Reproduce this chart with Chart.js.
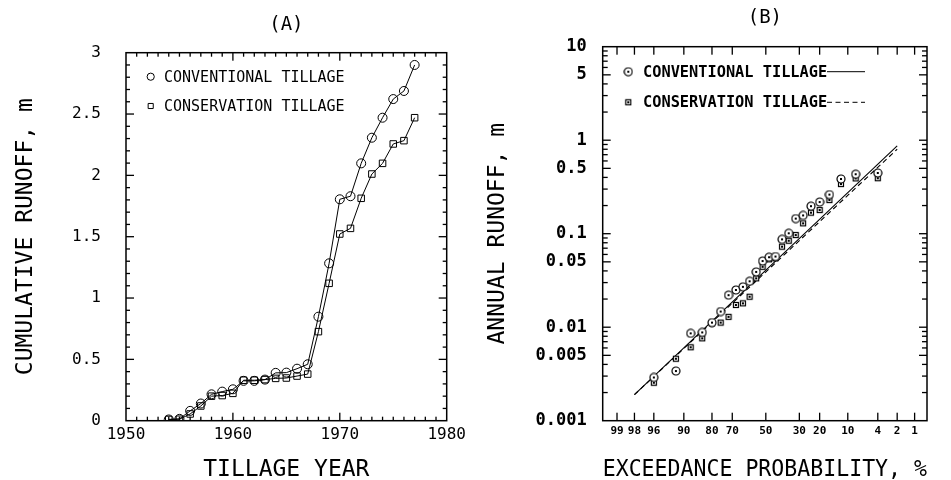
<!DOCTYPE html>
<html>
<head>
<meta charset="utf-8">
<script src="https://cdn.jsdelivr.net/npm/chart.js@4"></script>
<style>
  html, body { margin: 0; padding: 0; background: #fff; }
  .pane { position: absolute; top: 0; }
  #pa { left: 0; }
  #pb { left: 480px; }
</style>
</head>
<body>
<div class="pane" id="pa"><canvas id="ch-a" width="480" height="480"></canvas></div>
<div class="pane" id="pb"><canvas id="ch-b" width="471" height="480"></canvas></div>
<script>
/* two panels: (A) cumulative runoff by year, (B) annual runoff on lognormal probability paper */

const MONO = '"DejaVu Sans Mono", "Liberation Mono", monospace';

// ---- panel A data
const years = [1954,1955,1956,1957,1958,1959,1960,1961,1962,1963,1964,1965,
               1966,1967,1968,1969,1970,1971,1972,1973,1974,1975,1976,1977];
const convCum = [0.01,0.015,0.08,0.14,0.215,0.237,0.256,0.325,0.325,0.335,0.39,0.392,
                 0.424,0.46,0.848,1.283,1.805,1.83,2.098,2.307,2.47,2.622,2.688,2.9];
const consCum = [0.01,0.012,0.055,0.12,0.2,0.205,0.223,0.33,0.33,0.335,0.345,0.348,
                 0.364,0.38,0.726,1.12,1.522,1.568,1.813,2.011,2.098,2.256,2.283,2.47];

// ---- panel B data (exceedance probability, %)
const probs   = [96,92,88,84,80,76,72,68,64,60,56,52,48,44,40,36,32,28,24,20,16,12,8,4];
const convAnn = [0.0029,0.0034,0.0086,0.0088,0.0112,0.0147,0.022,0.025,0.027,0.031,0.039,0.051,
                 0.056,0.057,0.087,0.101,0.145,0.157,0.197,0.218,0.262,0.385,0.433,0.446];
const consAnn = [0.00255,0.0046,0.0061,0.0076,0.011,0.0112,0.0129,0.0173,0.018,0.0212,0.0333,0.0443,
                 0.0532,0.0546,0.0727,0.0841,0.0968,0.129,0.168,0.179,0.229,0.34,0.39,0.392];
const fitProbs = [98, 2];
const fitConv  = [0.0019, 0.87];
const fitCons  = [0.0019, 0.80];

const probTicks = [99,98,96,90,80,70,50,30,20,10,4,2,1];
const runTicks  = [0.001,0.005,0.01,0.05,0.1,0.5,1,5,10];
const runLabels = ['0.001','0.005','0.01','0.05','0.1','0.5','1','5','10'];

// tick marks (positions only, no labels)
const yrMajor  = [1960, 1970];
const yrMinor  = [1951,1952,1953,1954,1955,1956,1957,1958,1959,1961,1962,1963,1964,1965,1966,1967,1968,1969,
                  1971,1972,1973,1974,1975,1976,1977,1978,1979];
const cumMajor = [0.5, 1, 1.5, 2, 2.5];
const cumMinor = [0.1,0.2,0.3,0.4,0.6,0.7,0.8,0.9,1.1,1.2,1.3,1.4,1.6,1.7,1.8,1.9,2.1,2.2,2.3,2.4,2.6,2.7,2.8,2.9];
const logMajor = [0.005, 0.01, 0.05, 0.1, 0.5, 1, 5];
const logMinor = [0.002,0.003,0.004,0.006,0.007,0.008,0.009, 0.02,0.03,0.04,0.06,0.07,0.08,0.09,
                  0.2,0.3,0.4,0.6,0.7,0.8,0.9, 2,3,4,6,7,8,9];

// inverse normal (Acklam) -> probability axis
function normInv(p) {
  const a = [-3.969683028665376e+01,2.209460984245205e+02,-2.759285104469687e+02,1.383577518672690e+02,-3.066479806614716e+01,2.506628277459239e+00];
  const b = [-5.447609879822406e+01,1.615858368580409e+02,-1.556989798598866e+02,6.680131188771972e+01,-1.328068155288572e+01];
  const c = [-7.784894002430293e-03,-3.223964580411365e-01,-2.400758277161838e+00,-2.549732539343734e+00,4.374664141464968e+00,2.938163982698783e+00];
  const d = [7.784695709041462e-03,3.224671290700398e-01,2.445134137142996e+00,3.754408661907416e+00];
  const pl = 0.02425;
  let q, r;
  if (p < pl) {
    q = Math.sqrt(-2 * Math.log(p));
    return (((((c[0]*q+c[1])*q+c[2])*q+c[3])*q+c[4])*q+c[5]) / ((((d[0]*q+d[1])*q+d[2])*q+d[3])*q+1);
  }
  if (p > 1 - pl) {
    q = Math.sqrt(-2 * Math.log(1 - p));
    return -(((((c[0]*q+c[1])*q+c[2])*q+c[3])*q+c[4])*q+c[5]) / ((((d[0]*q+d[1])*q+d[2])*q+d[3])*q+1);
  }
  q = p - 0.5; r = q * q;
  return (((((a[0]*r+a[1])*r+a[2])*r+a[3])*r+a[4])*r+a[5])*q / (((((b[0]*r+b[1])*r+b[2])*r+b[3])*r+b[4])*r+1);
}
const pz = p => normInv(1 - p / 100);

// plotter-style symbols with centre dot for panel B
function sym(kind, size) {
  const c = document.createElement('canvas');
  c.width = c.height = size;
  const g = c.getContext('2d'), m = size / 2;
  g.strokeStyle = '#000'; g.fillStyle = '#fff'; g.lineWidth = 1.2;
  if (kind === 'circle') { g.beginPath(); g.arc(m, m, m - 1, 0, Math.PI * 2); g.fill(); g.stroke(); }
  else { g.fillRect(1, 1, size - 2, size - 2); g.strokeRect(1.5, 1.5, size - 3, size - 3); }
  g.fillStyle = '#000';
  g.fillRect(m - 1, m - 1, 2, 2);
  return c;
}
const symCirc = sym('circle', 10), symSq = sym('rect', 8);

// frame, inward ticks on four sides and the in-plot legend
function decor(cfg) {
  return {
    id: 'decor',
    afterDraw(chart) {
      const ctx = chart.ctx, a = chart.chartArea;
      const x = chart.scales.x, y = chart.scales.y;
      const w = 1.3;
      ctx.save();
      ctx.fillStyle = '#000';
      const tx = (vals, len) => { for (const v of vals) {
        const p = x.getPixelForValue(v);
        ctx.fillRect(p - w / 2, a.bottom - len, w, len);
        ctx.fillRect(p - w / 2, a.top, w, len);
      } };
      const ty = (vals, len) => { for (const v of vals) {
        const p = y.getPixelForValue(v);
        ctx.fillRect(a.left, p - w / 2, len, w);
        ctx.fillRect(a.right - len, p - w / 2, len, w);
      } };
      tx(cfg.xMajor, cfg.majorLen); tx(cfg.xMinor, cfg.minorLen);
      ty(cfg.yMajor, cfg.majorLen); ty(cfg.yMinor, cfg.minorLen);
      ctx.strokeStyle = '#000';
      ctx.lineWidth = 1.5;
      ctx.strokeRect(a.left, a.top, a.right - a.left, a.bottom - a.top);

      // legend
      ctx.font = cfg.font;
      ctx.textBaseline = 'middle';
      for (const r of cfg.rows) {
        const ds = chart.data.datasets[r.ds];
        ctx.fillStyle = 'rgba(0,0,0,0)';
        ctx.lineWidth = 1;
        Chart.helpers.drawPoint(ctx, { pointStyle: ds.pointStyle, radius: r.radius || ds.pointRadius,
                                       borderWidth: 1, rotation: 0 }, cfg.symX, r.y);
        ctx.fillStyle = '#000';
        ctx.fillText(ds.label, cfg.textX, r.y + 1);
        if (r.line !== undefined) {
          ctx.setLineDash(chart.data.datasets[r.line].borderDash || []);
          ctx.beginPath(); ctx.moveTo(cfg.lineX0, r.y); ctx.lineTo(cfg.lineX1, r.y); ctx.stroke();
          ctx.setLineDash([]);
        }
      }
      ctx.restore();
    }
  };
}

Chart.defaults.font.family = MONO;
Chart.defaults.color = '#000';

// ---------------- panel A
new Chart(document.getElementById('ch-a'), {
  type: 'line',
  data: {
    datasets: [
      { label: 'CONVENTIONAL TILLAGE', data: years.map((x, i) => ({ x, y: convCum[i] })),
        borderColor: '#000', borderWidth: 1, pointStyle: 'circle', pointRadius: 4.5,
        pointBorderColor: '#000', pointBorderWidth: 1, pointBackgroundColor: 'rgba(0,0,0,0)', tension: 0 },
      { label: 'CONSERVATION TILLAGE', data: years.map((x, i) => ({ x, y: consCum[i] })),
        borderColor: '#000', borderWidth: 1, pointStyle: 'rect', pointRadius: 4.6,
        pointBorderColor: '#000', pointBorderWidth: 1, pointBackgroundColor: 'rgba(0,0,0,0)', tension: 0 }
    ]
  },
  options: {
    responsive: false, animation: false, devicePixelRatio: 1,
    layout: { padding: { left: 0, right: 33.3, top: 0, bottom: 0 } },
    plugins: {
      legend: { display: false }, tooltip: { enabled: false },
      title: { display: true, text: '(A)', fullSize: false, color: '#000',
               font: { family: MONO, size: 19, weight: 'normal', lineHeight: 1 },
               padding: { top: 15.5, bottom: 18.2 } }
    },
    scales: {
      x: { type: 'linear', min: 1950, max: 1980,
           grid: { display: false, drawTicks: false }, border: { display: false },
           ticks: { stepSize: 10, autoSkip: false, maxRotation: 0, padding: 4.7, color: '#000',
                    font: { size: 16 }, callback: v => String(v) },
           title: { display: true, text: 'TILLAGE YEAR', color: '#000',
                    font: { size: 23, lineHeight: 0.87 }, padding: 0 },
           afterFit: s => { s.height = 59.3; } },
      y: { type: 'linear', min: 0, max: 3,
           grid: { display: false, drawTicks: false }, border: { display: false },
           ticks: { stepSize: 0.5, autoSkip: false, padding: 25, color: '#000',
                    font: { size: 16 }, callback: v => String(v) },
           title: { display: true, text: 'CUMULATIVE RUNOFF, m', color: '#000',
                    font: { size: 23, lineHeight: 1 }, padding: { top: 14.5, bottom: 0 } },
           afterFit: s => { s.width = 126; } }
    }
  },
  plugins: [
    decor({ xMajor: yrMajor, xMinor: yrMinor, yMajor: cumMajor, yMinor: cumMinor, majorLen: 8, minorLen: 4,
            font: '15px ' + MONO, symX: 150.7, textX: 164,
            rows: [{ ds: 0, y: 76.7, radius: 3.6 }, { ds: 1, y: 106, radius: 3.6 }] })
  ]
});

// ---------------- panel B
new Chart(document.getElementById('ch-b'), {
  type: 'scatter',
  data: {
    datasets: [
      { label: 'CONVENTIONAL TILLAGE', data: probs.map((p, i) => ({ x: pz(p), y: convAnn[i] })),
        pointStyle: symCirc, pointRadius: 5, showLine: false },
      { label: 'CONSERVATION TILLAGE', data: probs.map((p, i) => ({ x: pz(p), y: consAnn[i] })),
        pointStyle: symSq, pointRadius: 4, showLine: false },
      { label: 'fit conventional', data: fitProbs.map((p, i) => ({ x: pz(p), y: fitConv[i] })),
        showLine: true, borderColor: '#000', borderWidth: 1.1, pointRadius: 0, tension: 0 },
      { label: 'fit conservation', data: fitProbs.map((p, i) => ({ x: pz(p), y: fitCons[i] })),
        showLine: true, borderColor: '#000', borderWidth: 1.1, borderDash: [5, 3.5], pointRadius: 0, tension: 0 }
    ]
  },
  options: {
    responsive: false, animation: false, devicePixelRatio: 1,
    layout: { padding: { left: 0, right: 24, top: 0, bottom: 0 } },
    plugins: {
      legend: { display: false }, tooltip: { enabled: false },
      title: { display: true, text: '(B)', fullSize: false, color: '#000',
               font: { family: MONO, size: 19, weight: 'normal', lineHeight: 1 },
               padding: { top: 8.8, bottom: 18.9 } }
    },
    scales: {
      x: { type: 'linear', min: -2.55, max: 2.52,
           grid: { display: false, drawTicks: false }, border: { display: false },
           afterBuildTicks: s => { s.ticks = probTicks.map(p => ({ value: pz(p) })); },
           ticks: { autoSkip: false, maxRotation: 0, padding: 3.7, color: '#000',
                    font: { size: 11, weight: 'bold' }, callback: (v, i) => String(probTicks[i]) },
           title: { display: true, text: 'EXCEEDANCE PROBABILITY, %', color: '#000',
                    font: { size: 23, lineHeight: 0.87 }, padding: 0 },
           afterFit: s => { s.height = 59.3; } },
      y: { type: 'logarithmic', min: 0.001, max: 10,
           grid: { display: false, drawTicks: false }, border: { display: false },
           afterBuildTicks: s => { s.ticks = runTicks.map(v => ({ value: v })); },
           ticks: { autoSkip: false, padding: 16, color: '#000',
                    font: { size: 17, weight: 'bold' }, callback: (v, i) => runLabels[i] },
           title: { display: true, text: 'ANNUAL RUNOFF, m', color: '#000',
                    font: { size: 23, lineHeight: 1 }, padding: { top: 6.8, bottom: 0 } },
           afterFit: s => { s.width = 122.7; } }
    }
  },
  plugins: [
    decor({ xMajor: probTicks.map(pz), xMinor: [], yMajor: logMajor, yMinor: logMinor, majorLen: 8, minorLen: 5,
            font: 'bold 15.3px ' + MONO, symX: 148.3, textX: 163, lineX0: 347, lineX1: 385,
            rows: [{ ds: 0, y: 71.7, line: 2 }, { ds: 1, y: 102.3, line: 3 }] })
  ]
});
</script>
</body>
</html>
